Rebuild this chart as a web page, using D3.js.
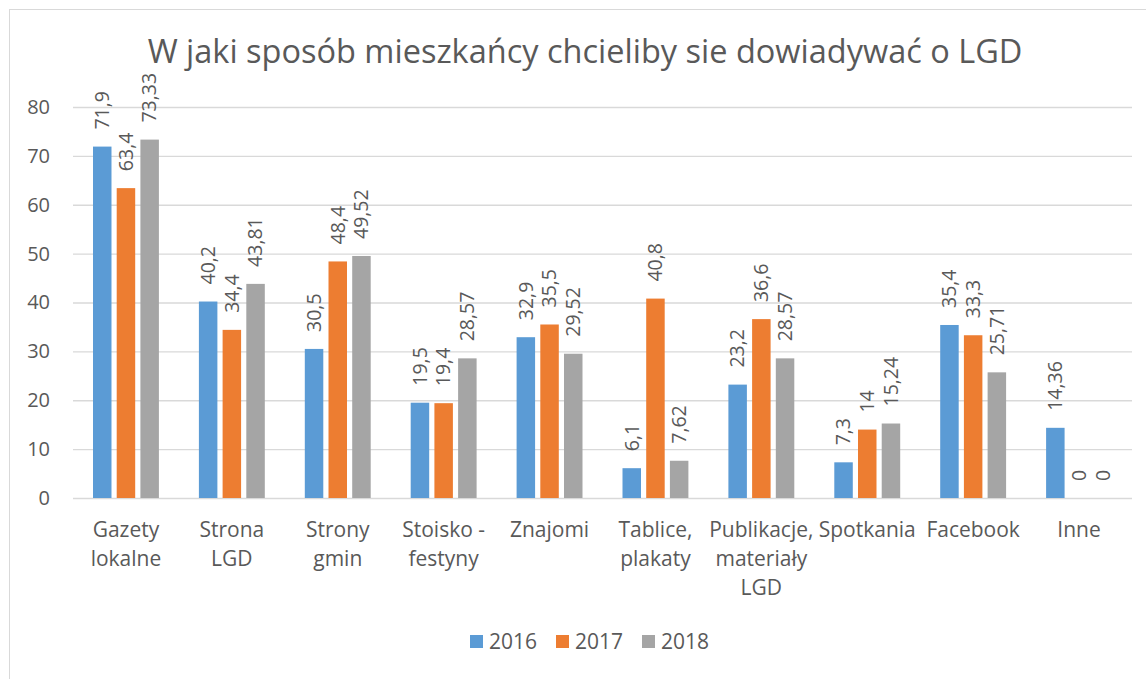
<!DOCTYPE html>
<html>
<head>
<meta charset="utf-8" />
<title>W jaki sposób mieszkańcy chcieliby sie dowiadywać o LGD</title>
<script src="https://cdn.jsdelivr.net/npm/d3@7"></script>
<style>
  body { margin: 0; background: #fff; }
  text { font-family: "Open Sans", sans-serif; fill: #595959; }
</style>
</head>
<body>
<script>
// data
var categories = ["Gazety lokalne", "Strona LGD", "Strony gmin", "Stoisko - festyny", "Znajomi",
                  "Tablice, plakaty", "Publikacje, materiały LGD", "Spotkania", "Facebook", "Inne"];
var labelLines = [["Gazety", "lokalne"], ["Strona", "LGD"], ["Strony", "gmin"], ["Stoisko -", "festyny"],
                  ["Znajomi"], ["Tablice,", "plakaty"], ["Publikacje,", "materiały", "LGD"],
                  ["Spotkania"], ["Facebook"], ["Inne"]];
var years = ["2016", "2017", "2018"];
var v2016 = [71.9, 40.2, 30.5, 19.5, 32.9, 6.1, 23.2, 7.3, 35.4, 14.36];
var v2017 = [63.4, 34.4, 48.4, 19.4, 35.5, 40.8, 36.6, 14, 33.3, 0];
var v2018 = [73.33, 43.81, 49.52, 28.57, 29.52, 7.62, 28.57, 15.24, 25.71, 0];
var yTicks = [0, 10, 20, 30, 40, 50, 60, 70, 80];
var colors = ["#5B9BD5", "#ED7D31", "#A5A5A5"];

var series = [v2016, v2017, v2018];
var W = 1146, H = 679;

var svg = d3.select("body").append("svg")
    .attr("width", W)
    .attr("height", H);

// chart border
svg.append("rect")
    .attr("x", 9.5).attr("y", 9.5)
    .attr("width", W + 20).attr("height", H + 20)
    .attr("fill", "none")
    .attr("stroke", "#d9d9d9");

var x0 = d3.scaleBand().domain(categories).range([73, 1132]).padding(0);
var x1 = d3.scaleBand().domain(years).range([20, x0.bandwidth() - 20]).paddingInner(0.22);
var y = d3.scaleLinear().domain([0, 80]).range([498, 107]);

// gridlines
svg.append("g").selectAll("line")
    .data(yTicks)
    .enter().append("line")
    .attr("x1", 73).attr("x2", 1132)
    .attr("y1", function(d){ return y(d) + 0.5; })
    .attr("y2", function(d){ return y(d) + 0.5; })
    .attr("stroke", "#d9d9d9")
    .attr("stroke-width", 1.3);

// y axis labels
var yAxis = svg.append("g")
    .attr("transform", "translate(73,0)")
    .call(d3.axisLeft(y).tickValues(yTicks).tickSize(0).tickPadding(23));
yAxis.select(".domain").remove();
yAxis.selectAll("text")
    .attr("font-family", "Open Sans")
    .style("font-size", "20px")
    .attr("fill", "#595959");

// bars
var groups = svg.append("g").selectAll("g")
    .data(categories)
    .enter().append("g")
    .attr("transform", function(d){ return "translate(" + x0(d) + ",0)"; });

groups.each(function(cat, i){
    var g = d3.select(this);
    years.forEach(function(yr, j){
        var val = series[j][i];
        if (val > 0) {
            g.append("rect")
                .attr("x", x1(yr))
                .attr("y", y(val))
                .attr("width", x1.bandwidth())
                .attr("height", y(0) - y(val))
                .attr("fill", colors[j]);
        }
        var cx = x1(yr) + x1.bandwidth() / 2;
        var ty = y(val) - 17;
        g.append("text")
            .attr("transform", "translate(" + cx + "," + ty + ") rotate(-90)")
            .attr("dy", "0.35em")
            .style("font-size", "19.5px")
            .text(String(val).replace(".", ","));
    });
});

// category labels
var xl = svg.append("g").selectAll("text")
    .data(categories)
    .enter().append("text")
    .attr("text-anchor", "middle")
    .attr("x", function(d){ return x0(d) + x0.bandwidth() / 2; })
    .attr("y", 537)
    .style("font-size", "21px");
xl.each(function(d, i){
    var t = d3.select(this);
    labelLines[i].forEach(function(line, k){
        t.append("tspan")
            .attr("x", x0(d) + x0.bandwidth() / 2)
            .attr("y", 537 + k * 29)
            .text(line);
    });
});

// title
svg.append("text")
    .attr("x", 585).attr("y", 63)
    .attr("text-anchor", "middle")
    .style("font-size", "32.5px")
    .text("W jaki sposób mieszkańcy chcieliby sie dowiadywać o LGD");

// legend
var legX = [470, 556, 642];
var leg = svg.append("g").selectAll("g")
    .data(years)
    .enter().append("g")
    .attr("transform", function(d, i){ return "translate(" + legX[i] + ",635)"; });
leg.append("rect")
    .attr("width", 13).attr("height", 13)
    .attr("fill", function(d, i){ return colors[i]; });
leg.append("text")
    .attr("x", 19).attr("y", 14)
    .style("font-size", "21px")
    .text(function(d){ return d; });
</script>
</body>
</html>
